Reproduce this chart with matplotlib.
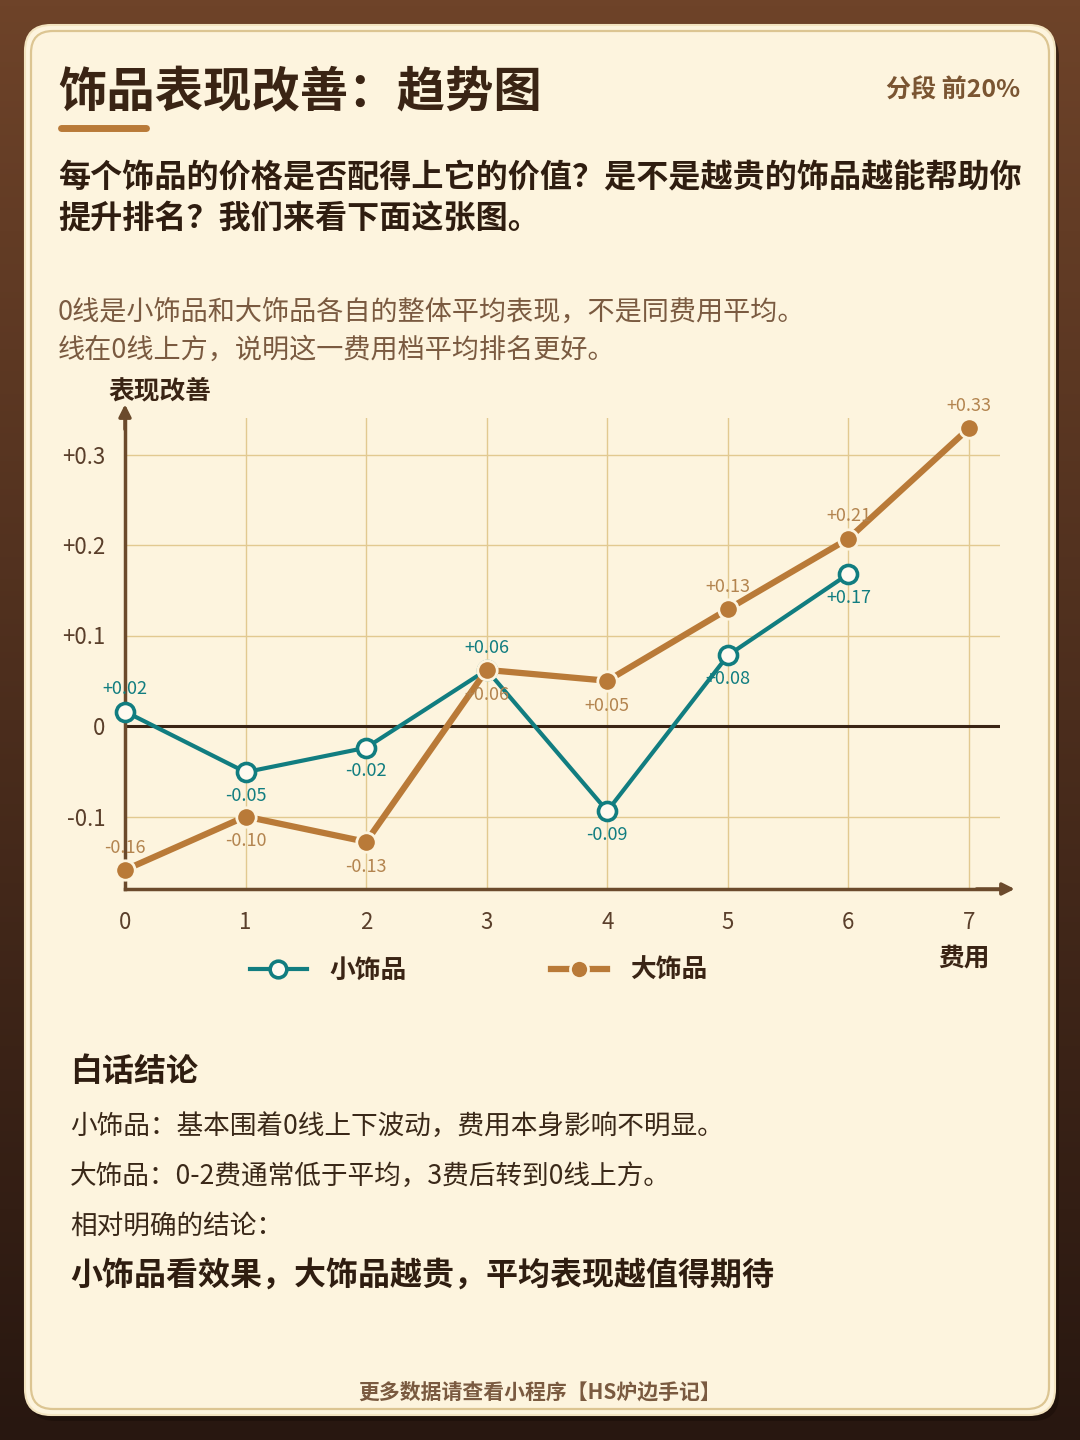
import numpy as np
import matplotlib.pyplot as plt
from matplotlib.patches import FancyBboxPatch
from matplotlib.lines import Line2D

plt.rcParams['font.family'] = ['Noto Sans CJK SC', 'DejaVu Sans']

# data
cost = [0, 1, 2, 3, 4, 5, 6, 7]
small_cost = [0, 1, 2, 3, 4, 5, 6]
small_vals = [0.016, -0.051, -0.024, 0.062, -0.094, 0.078, 0.168]
big_vals = [-0.159, -0.100, -0.128, 0.062, 0.050, 0.129, 0.207, 0.329]
small_pos = ['up', 'down', 'down', 'up', 'down', 'down', 'down']
big_pos = ['up', 'down', 'down', 'down', 'down', 'up', 'up', 'up']
yticks = [-0.1, 0.0, 0.1, 0.2, 0.3]
ytick_labels = ['-0.1', '0', '+0.1', '+0.2', '+0.3']

title = '饰品表现改善：趋势图'
tag = '分段 前20%'
subtitle = ['每个饰品的价格是否配得上它的价值？是不是越贵的饰品越能帮助你',
            '提升排名？我们来看下面这张图。']
notes = ['0线是小饰品和大饰品各自的整体平均表现，不是同费用平均。',
         '线在0线上方，说明这一费用档平均排名更好。']
concl_head = '白话结论'
concl_lines = ['小饰品：基本围着0线上下波动，费用本身影响不明显。',
               '大饰品：0-2费通常低于平均，3费后转到0线上方。',
               '相对明确的结论：']
concl_bold = '小饰品看效果，大饰品越贵，平均表现越值得期待'
footer = '更多数据请查看小程序【HS炉边手记】'

DARK = '#3a2414'
TEAL = '#117d80'
BROWN = '#b97a38'
BROWN_LBL = '#b3844f'
GRID = '#e2c990'
AXIS = '#6b4a2c'
CARD = '#fdf4de'

W, H = 1080, 1440
fig = plt.figure(figsize=(W / 100, H / 100), dpi=100)

# background + card, in pixel coords
bg = fig.add_axes([0, 0, 1, 1])
bg.set_xlim(0, W)
bg.set_ylim(H, 0)
bg.axis('off')
grad = np.linspace(0, 1, 256).reshape(-1, 1)
top = np.array([0x6e, 0x43, 0x29]) / 255
bot = np.array([0x28, 0x17, 0x10]) / 255
img = top[None, None, :] * (1 - grad[:, :, None]) + bot[None, None, :] * grad[:, :, None]
bg.imshow(img, extent=[0, W, H, 0], aspect='auto', zorder=0)
bg.add_patch(FancyBboxPatch((29, 31), 1030, 1390, boxstyle='round,pad=0,rounding_size=26',
                            fc='#1a0e08', ec='none', alpha=0.6, zorder=1))
bg.add_patch(FancyBboxPatch((25, 25), 1030, 1390, boxstyle='round,pad=0,rounding_size=26',
                            fc=CARD, ec='#f3e4c0', lw=1.5, zorder=2))
bg.add_patch(FancyBboxPatch((31, 31), 1018, 1378, boxstyle='round,pad=0,rounding_size=22',
                            fc='none', ec='#dcc592', lw=1.6, zorder=3))

# header
bg.text(58, 93, title, fontsize=34.8, fontweight='bold', color=DARK, va='center', ha='left', zorder=5)
bg.plot([61, 146], [128, 128], color=BROWN, lw=5, solid_capstyle='round', zorder=5)
bg.text(1020, 91, tag, fontsize=18, fontweight='bold', color='#7a5532', va='center', ha='right', zorder=5)
for i, s in enumerate(subtitle):
    bg.text(58, 178 + i * 40, s, fontsize=23.1, fontweight='bold', color='#2f1d10',
            va='center', ha='left', zorder=5)
for i, s in enumerate(notes):
    bg.text(58, 312 + i * 38, s, fontsize=19.5, color='#7a5a40', va='center', ha='left', zorder=5)

bg.text(108, 391, '表现改善', fontsize=18.5, fontweight='bold', color=DARK, va='center', ha='left', zorder=5)
bg.text(964, 958, '费用', fontsize=18.5, fontweight='bold', color=DARK, va='center', ha='center', zorder=5)

# conclusions
bg.text(70, 1072, concl_head, fontsize=23, fontweight='bold', color='#2f1d10', va='center', zorder=5)
for i, s in enumerate(concl_lines):
    bg.text(70, 1126 + i * 50, s, fontsize=19.2, color='#3a2818', va='center', zorder=5)
bg.text(70, 1276, concl_bold, fontsize=23, fontweight='bold', color='#2f1d10', va='center', zorder=5)
bg.text(540, 1392, footer, fontsize=15, fontweight='bold', color='#7a5a40', va='center', ha='center', zorder=5)

# chart axes: x=0 at px 125, x=7 at px 969; y=0 at px 726, 0.1 per 90.5 px
left, right, top_px, bottom_px = 125, 1000, 418, 889
ax = fig.add_axes([left / W, 1 - bottom_px / H, (right - left) / W, (bottom_px - top_px) / H])
ax.set_facecolor('none')
ax.set_xlim(0, 7 * (right - left) / (969 - 125))
ax.set_ylim((726 - bottom_px) / 905, (726 - top_px) / 905)

ax.set_xticks(cost)
ax.set_yticks(yticks)
ax.set_yticklabels(ytick_labels)
ax.tick_params(length=0, labelsize=16, labelcolor='#5a3f2b', pad=14)
ax.tick_params(axis='x', pad=16)
ax.grid(True, color=GRID, lw=1)
for s in ['top', 'right']:
    ax.spines[s].set_visible(False)
for s in ['left', 'bottom']:
    ax.spines[s].set_color(AXIS)
    ax.spines[s].set_linewidth(2.5)
ax.axhline(0, color=DARK, lw=2.2, zorder=2)
ax.annotate('', xy=(0, 1.035), xytext=(0, 0.97), xycoords='axes fraction',
            arrowprops=dict(arrowstyle='-|>', color=AXIS, lw=2.5, mutation_scale=18), annotation_clip=False)
ax.annotate('', xy=(1.02, 0), xytext=(0.97, 0), xycoords='axes fraction',
            arrowprops=dict(arrowstyle='-|>', color=AXIS, lw=2.5, mutation_scale=18), annotation_clip=False)

ax.plot(small_cost, small_vals, color=TEAL, lw=3, marker='o', ms=13, mfc='#fffaf0', mec=TEAL, mew=2.6,
        zorder=4, clip_on=False)
ax.plot(cost, big_vals, color=BROWN, lw=4.5, marker='o', ms=14, mfc=BROWN, mec=CARD, mew=2,
        zorder=5, clip_on=False)

for x, v, p in zip(small_cost, small_vals, small_pos):
    ax.annotate(f'{v:+.2f}', (x, v), xytext=(0, 16 if p == 'up' else -17), textcoords='offset points',
                ha='center', va='center', fontsize=13, color=TEAL, zorder=6)
for x, v, p in zip(cost, big_vals, big_pos):
    ax.annotate(f'{v:+.2f}', (x, v), xytext=(0, 16 if p == 'up' else -18), textcoords='offset points',
                ha='center', va='center', fontsize=13, color=BROWN_LBL, zorder=6)

handles = [Line2D([], [], color=TEAL, lw=3, marker='o', ms=12, mfc='#fffaf0', mec=TEAL, mew=2.6),
           Line2D([], [], color=BROWN, lw=4.5, marker='o', ms=13, mfc=BROWN, mec=CARD, mew=2)]
fig.legend(handles, ['小饰品', '大饰品'], loc='center', bbox_to_anchor=(479 / W, 1 - 970 / H), ncol=2,
           frameon=False, handlelength=2.2, handletextpad=0.9, columnspacing=5.6,
           prop={'size': 18.5, 'weight': 'bold'}, labelcolor=DARK)

fig.savefig('out.png', dpi=100)
